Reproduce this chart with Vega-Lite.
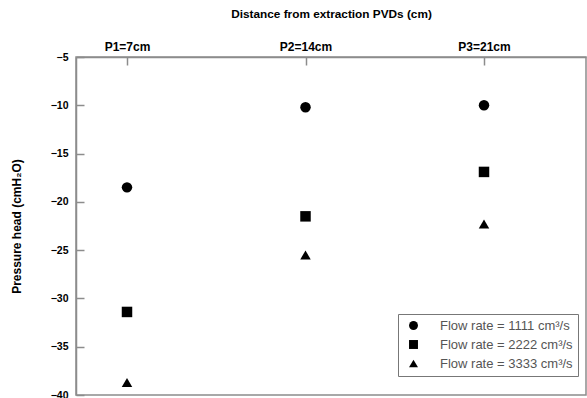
{
  "$schema": "https://vega.github.io/schema/vega-lite/v6.json",
  "width": 510,
  "height": 338,
  "autosize": {"type": "none"},
  "padding": {"left": 76, "top": 57, "right": 1, "bottom": 3},
  "background": "white",
  "config": {
    "font": "Liberation Sans",
    "view": {"stroke": "#8c8c8c", "strokeWidth": 1.5},
    "axis": {"grid": false, "domainColor": "#8c8c8c", "domainWidth": 1.5, "tickColor": "#8c8c8c", "tickWidth": 1.5}
  },
  "data": {
    "values": [
      {"d": 7, "p": -18.5, "flow": "Flow rate = 1111 cm³/s"},
      {"d": 14, "p": -10.2, "flow": "Flow rate = 1111 cm³/s"},
      {"d": 21, "p": -10.0, "flow": "Flow rate = 1111 cm³/s"},
      {"d": 7, "p": -31.4, "flow": "Flow rate = 2222 cm³/s"},
      {"d": 14, "p": -21.5, "flow": "Flow rate = 2222 cm³/s"},
      {"d": 21, "p": -16.9, "flow": "Flow rate = 2222 cm³/s"},
      {"d": 7, "p": -38.7, "flow": "Flow rate = 3333 cm³/s"},
      {"d": 14, "p": -25.5, "flow": "Flow rate = 3333 cm³/s"},
      {"d": 21, "p": -22.3, "flow": "Flow rate = 3333 cm³/s"}
    ]
  },
  "resolve": {"axis": {"x": "independent", "y": "independent"}},
  "layer": [
    {
      "mark": {"type": "point", "filled": true, "opacity": 0, "size": 1},
      "encoding": {
        "x": {
          "field": "d", "type": "quantitative",
          "scale": {"domain": [5, 25], "nice": false, "zero": false},
          "axis": {"orient": "bottom", "offset": -338, "values": [7, 14, 21], "labels": false, "domain": false, "ticks": true, "tickSize": 8, "tickColor": "#8c8c8c", "tickWidth": 1.5, "zindex": 1, "title": null}
        },
        "y": {
          "field": "p", "type": "quantitative",
          "scale": {"domain": [-40, -5], "nice": false, "zero": false},
          "axis": {"orient": "left", "offset": -8, "values": [-40, -35, -30, -25, -20, -15, -10, -5], "labels": false, "domain": false, "ticks": true, "tickSize": 8, "tickColor": "#8c8c8c", "tickWidth": 1.5, "zindex": 1, "title": null}
        }
      }
    },
    {
      "mark": {"type": "point", "filled": true, "opacity": 1, "color": "black", "size": 110},
      "encoding": {
        "x": {
          "field": "d", "type": "quantitative",
          "scale": {"domain": [5, 25], "nice": false, "zero": false},
          "axis": {
            "orient": "top", "values": [7, 14, 21], "ticks": false,
            "labelExpr": "datum.value == 7 ? 'P1=7cm' : datum.value == 14 ? 'P2=14cm' : 'P3=21cm'",
            "labelPadding": 4, "labelFontSize": 12, "labelFontWeight": "bold", "labelColor": "black",
            "title": "Distance from extraction PVDs (cm)", "titleFontSize": 11.8, "titleFontWeight": "bold", "titleColor": "black", "titlePadding": 21
          }
        },
        "y": {
          "field": "p", "type": "quantitative",
          "scale": {"domain": [-40, -5], "nice": false, "zero": false},
          "axis": {
            "orient": "left", "values": [-40, -35, -30, -25, -20, -15, -10, -5], "ticks": false,
            "labelPadding": 8, "labelFontSize": 10.5, "labelFontWeight": "bold", "labelColor": "black",
            "title": "Pressure head (cmH₂O)", "titleFontSize": 12, "titleFontWeight": "bold", "titleColor": "black", "titlePadding": 27
          }
        },
        "shape": {
          "field": "flow", "type": "nominal",
          "scale": {"range": ["circle", "square", "triangle-up"]},
          "legend": {
            "title": null, "orient": "none", "legendX": 322, "legendY": 257,
            "strokeColor": "#777", "fillColor": "white", "padding": 5,
            "labelFont": "Liberation Sans", "labelFontSize": 13, "labelColor": "#555", "labelOffset": 20,
            "symbolFillColor": "black", "symbolStrokeColor": "black", "symbolSize": 80, "symbolOffset": 4, "rowPadding": 4
          }
        }
      }
    }
  ]
}
